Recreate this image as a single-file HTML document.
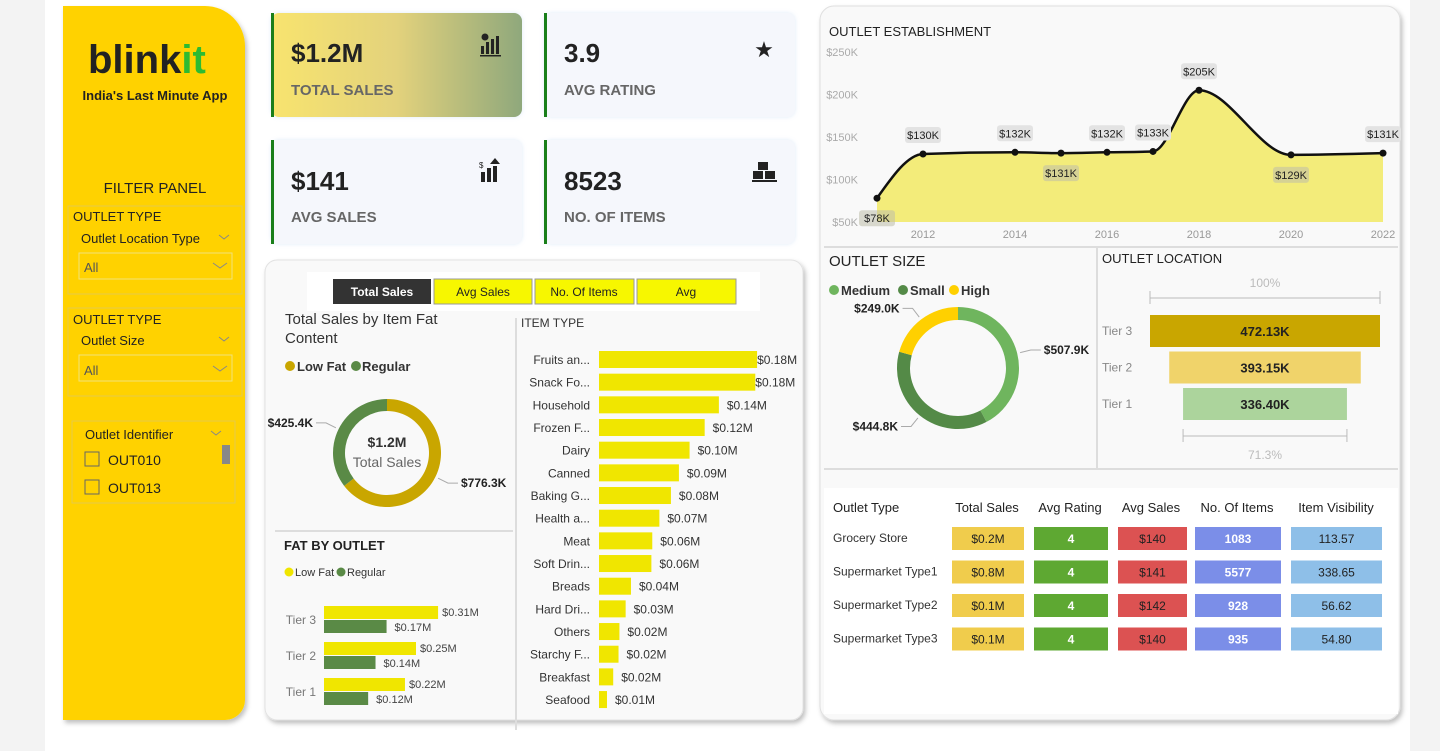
<!DOCTYPE html>
<html><head><meta charset="utf-8">
<style>
html,body{margin:0;padding:0;background:#f3f3f3;width:1440px;height:751px;overflow:hidden;font-family:"Liberation Sans",Arial,sans-serif}
svg text{font-family:"Liberation Sans",Arial,sans-serif}
</style></head>
<body>
<svg id="root" width="1440" height="751" viewBox="0 0 1440 751" xmlns="http://www.w3.org/2000/svg">
<defs>
  <linearGradient id="g1" x1="0" x2="1" y1="0" y2="0"><stop offset="0" stop-color="#f8e46e"/><stop offset="0.5" stop-color="#e3d27c"/><stop offset="1" stop-color="#8fa87c"/></linearGradient>
  <filter id="sh" x="-5%" y="-5%" width="110%" height="110%"><feDropShadow dx="2" dy="3" stdDeviation="2.5" flood-color="#000" flood-opacity="0.25"/></filter>
  <filter id="sh2" x="-5%" y="-5%" width="110%" height="110%"><feDropShadow dx="0" dy="0" stdDeviation="2" flood-color="#9fc3ea" flood-opacity="0.35"/></filter>
</defs>
<rect x="45" y="0" width="1365" height="751" fill="#ffffff"/>

<!-- Sidebar -->
<g>
  <path d="M63 6 H205 A40 40 0 0 1 245 46 V700 A20 20 0 0 1 225 720 H63 Z" fill="#ffd200" filter="url(#sh)"/>
  <text x="88" y="73" font-size="40" font-weight="bold" fill="#222">blink<tspan fill="#2dbb32">it</tspan></text>
  <text x="155" y="100" font-size="13" font-weight="bold" fill="#222" text-anchor="middle">India's Last Minute App</text>
  <text x="155" y="193" font-size="15" fill="#222" text-anchor="middle">FILTER PANEL</text>

  <g>
    <rect x="68" y="206" width="174" height="88" fill="none" stroke="#e6c94a"/>
    <text x="73" y="221" font-size="13" fill="#222">OUTLET TYPE</text>
    <text x="81" y="243" font-size="13" fill="#222">Outlet Location Type</text>
    <path d="M219 235 l5 4 l5 -4" fill="none" stroke="#888"/>
    <rect x="79" y="253" width="153" height="26" fill="none" stroke="#f1e27a"/>
    <text x="84" y="272" font-size="13" fill="#555">All</text>
    <path d="M213 263 l7 5 l7 -5" fill="none" stroke="#888"/>
  </g>
  <g>
    <rect x="68" y="308" width="174" height="88" fill="none" stroke="#e6c94a"/>
    <text x="73" y="324" font-size="13" fill="#222">OUTLET TYPE</text>
    <text x="81" y="345" font-size="13" fill="#222">Outlet Size</text>
    <path d="M219 337 l5 4 l5 -4" fill="none" stroke="#888"/>
    <rect x="79" y="355" width="153" height="26" fill="none" stroke="#f1e27a"/>
    <text x="84" y="375" font-size="13" fill="#555">All</text>
    <path d="M213 366 l7 5 l7 -5" fill="none" stroke="#888"/>
  </g>
  <g>
    <rect x="72" y="421" width="163" height="82" fill="none" stroke="#e6c94a"/>
    <text x="85" y="439" font-size="13" fill="#222">Outlet Identifier</text>
    <path d="M211 431 l5 4 l5 -4" fill="none" stroke="#888"/>
    <rect x="222" y="445" width="8" height="19" fill="#888"/>
    <rect x="85" y="452" width="14" height="14" fill="none" stroke="#666"/>
    <text x="108" y="465" font-size="14" fill="#222">OUT010</text>
    <rect x="85" y="480" width="14" height="14" fill="none" stroke="#666"/>
    <text x="108" y="493" font-size="14" fill="#222">OUT013</text>
  </g>
</g>

<!-- KPI cards -->
<g>
  <rect x="271" y="13" width="251" height="104" rx="8" fill="url(#g1)" filter="url(#sh2)"/>
  <rect x="271" y="13" width="3" height="104" fill="#1a7f1a"/>
  <text x="291" y="62" font-size="26" font-weight="bold" fill="#222">$1.2M</text>
  <text x="291" y="95" font-size="15" font-weight="bold" fill="#666">TOTAL SALES</text>
  <g fill="#222"><rect x="481" y="46" width="3" height="8"/><rect x="486" y="42" width="3" height="12"/><rect x="491" y="39" width="3" height="15"/><rect x="496" y="36" width="3" height="18"/><rect x="480" y="55" width="21" height="1.5"/><circle cx="485" cy="37" r="3.5"/></g>
</g>
<g>
  <rect x="544" y="13" width="251" height="104" rx="8" fill="#f5f7fc" filter="url(#sh2)"/>
  <rect x="544" y="13" width="3" height="104" fill="#1a7f1a"/>
  <text x="564" y="62" font-size="26" font-weight="bold" fill="#222">3.9</text>
  <text x="564" y="95" font-size="15" font-weight="bold" fill="#666">AVG RATING</text>
  <text x="764" y="57" font-size="22" text-anchor="middle" fill="#222">★</text>
</g>
<g>
  <rect x="271" y="140" width="251" height="104" rx="8" fill="#f5f7fc" filter="url(#sh2)"/>
  <rect x="271" y="140" width="3" height="104" fill="#1a7f1a"/>
  <text x="291" y="190" font-size="26" font-weight="bold" fill="#222">$141</text>
  <text x="291" y="222" font-size="15" font-weight="bold" fill="#666">AVG SALES</text>
  <g fill="#222"><rect x="481" y="172" width="4" height="10"/><rect x="487" y="168" width="4" height="14"/><rect x="493" y="166" width="4" height="16"/><path d="M495 158 l5 6 h-10z"/><text x="479" y="168" font-size="8">$</text></g>
</g>
<g>
  <rect x="544" y="140" width="251" height="104" rx="8" fill="#f5f7fc" filter="url(#sh2)"/>
  <rect x="544" y="140" width="3" height="104" fill="#1a7f1a"/>
  <text x="564" y="190" font-size="26" font-weight="bold" fill="#222">8523</text>
  <text x="564" y="222" font-size="15" font-weight="bold" fill="#666">NO. OF ITEMS</text>
  <g fill="#222"><rect x="758" y="162" width="10" height="8"/><rect x="753" y="171" width="10" height="8"/><rect x="765" y="171" width="10" height="8"/><rect x="752" y="180" width="25" height="2"/></g>
</g>

<!-- Middle panel -->
<g>
  <rect x="265" y="260" width="538" height="460" rx="12" fill="#f9f9f9" stroke="#e2e2e2" filter="url(#sh)"/>
  <rect x="307" y="272" width="453" height="39" fill="#ffffff"/>
  <line x1="275" y1="531" x2="513" y2="531" stroke="#ddd" stroke-width="2"/>
  <line x1="516" y1="318" x2="516" y2="730" stroke="#ddd" stroke-width="2"/>
</g>
<g>
  <g><rect x="333" y="279" width="98" height="25" fill="#333"/><text x="382" y="296" font-size="12" font-weight="bold" fill="#fff" text-anchor="middle">Total Sales</text></g>
  <g><rect x="434" y="279" width="98" height="25" fill="#f7f700" stroke="#999"/><text x="483" y="296" font-size="12" fill="#222" text-anchor="middle">Avg Sales</text></g>
  <g><rect x="535" y="279" width="99" height="25" fill="#f7f700" stroke="#999"/><text x="584" y="296" font-size="12" fill="#222" text-anchor="middle">No. Of Items</text></g>
  <g><rect x="637" y="279" width="99" height="25" fill="#f7f700" stroke="#999"/><text x="686" y="296" font-size="12" fill="#222" text-anchor="middle">Avg</text></g>
</g>
<text x="285" y="324" font-size="15" fill="#333">Total Sales by Item Fat</text>
<text x="285" y="343" font-size="15" fill="#333">Content</text>
<g>
  <circle cx="290" cy="366" r="5" fill="#c9a600"/><text x="297" y="371" font-size="13" font-weight="bold" fill="#333">Low Fat</text>
  <circle cx="356" cy="366" r="5" fill="#5a8a46"/><text x="362" y="371" font-size="13" font-weight="bold" fill="#333">Regular</text>
</g>
<g id="fatDonut"></g>
<text x="284" y="550" font-size="13" font-weight="bold" fill="#222">FAT BY OUTLET</text>
<g>
  <circle cx="289" cy="572" r="4.5" fill="#f0e600"/><text x="295" y="576" font-size="11" fill="#333">Low Fat</text>
  <circle cx="341" cy="572" r="4.5" fill="#5a8a46"/><text x="347" y="576" font-size="11" fill="#333">Regular</text>
</g>
<g id="fatOutlet"></g>
<text x="521" y="327" font-size="12" fill="#333">ITEM TYPE</text>
<g id="itemChart"></g>

<!-- Right panel -->
<g>
  <rect x="820" y="6" width="580" height="714" rx="14" fill="#f9f9f9" stroke="#e0e0e0" filter="url(#sh)"/>
  <line x1="824" y1="247" x2="1398" y2="247" stroke="#ddd" stroke-width="2"/>
  <line x1="1097" y1="247" x2="1097" y2="469" stroke="#ddd" stroke-width="2"/>
  <line x1="824" y1="469" x2="1398" y2="469" stroke="#ddd" stroke-width="2"/>
  <rect x="824" y="488" width="574" height="226" fill="#ffffff"/>
</g>
<text x="829" y="36" font-size="13" fill="#222">OUTLET ESTABLISHMENT</text>
<g id="lineChart"></g>
<text x="829" y="266" font-size="15" fill="#222">OUTLET SIZE</text>
<g>
  <circle cx="834" cy="290" r="5" fill="#6fb55e"/><text x="841" y="295" font-size="13" font-weight="bold" fill="#333">Medium</text>
  <circle cx="903" cy="290" r="5" fill="#548a47"/><text x="910" y="295" font-size="13" font-weight="bold" fill="#333">Small</text>
  <circle cx="954" cy="290" r="5" fill="#ffd000"/><text x="961" y="295" font-size="13" font-weight="bold" fill="#333">High</text>
</g>
<g id="sizeDonut"></g>
<text x="1102" y="263" font-size="13" fill="#222">OUTLET LOCATION</text>
<g id="funnel"></g>
<g id="table"></g>
</svg>

<script>
const NS='http://www.w3.org/2000/svg';
function mk(parent,tag,attrs,txt){const e=document.createElementNS(NS,tag);for(const k in attrs)e.setAttribute(k,attrs[k]);if(txt!==undefined)e.textContent=txt;parent.appendChild(e);return e;}

// ---------- data ----------
const fatCategories=['Low Fat','Regular'];
const fatValues=[776.3,425.4];
const fatLabels=['$776.3K','$425.4K'];

const outletTiers=['Tier 3','Tier 2','Tier 1'];
const tierLowFat=[0.31,0.25,0.22];
const tierRegular=[0.17,0.14,0.12];

const itemTypes=['Fruits an...','Snack Fo...','Household','Frozen F...','Dairy','Canned','Baking G...','Health a...','Meat','Soft Drin...','Breads','Hard Dri...','Others','Starchy F...','Breakfast','Seafood'];
const itemSales=[0.178,0.176,0.135,0.119,0.102,0.090,0.081,0.068,0.060,0.059,0.036,0.030,0.023,0.022,0.016,0.009];

const estYears=[2011,2012,2014,2015,2016,2017,2018,2020,2022];
const estSales=[78,130,132,131,132,133,205,129,131];
const estYTicks=[50,100,150,200,250];
const estXTicks=[2012,2014,2016,2018,2020,2022];

const sizeCategories=['Medium','Small','High'];
const sizeValues=[507.9,444.8,249.0];
const sizeLabels=['$507.9K','$444.8K','$249.0K'];

const locTiers=['Tier 3','Tier 2','Tier 1'];
const locValues=[472.13,393.15,336.40];

const tblHeaders=['Outlet Type','Total Sales','Avg Rating','Avg Sales','No. Of Items','Item Visibility'];
const tblTypes=['Grocery Store','Supermarket Type1','Supermarket Type2','Supermarket Type3'];
const tblTotal=['$0.2M','$0.8M','$0.1M','$0.1M'];
const tblRating=['4','4','4','4'];
const tblAvg=['$140','$141','$142','$140'];
const tblItems=['1083','5577','928','935'];
const tblVis=['113.57','338.65','56.62','54.80'];

// ---------- donut helper ----------
function arc(cx,cy,r1,r2,a0,a1){
  const p=(r,a)=>[cx+r*Math.sin(a),cy-r*Math.cos(a)];
  const lg=(a1-a0)>Math.PI?1:0;
  const [x0,y0]=p(r2,a0),[x1,y1]=p(r2,a1),[x2,y2]=p(r1,a1),[x3,y3]=p(r1,a0);
  return `M${x0} ${y0}A${r2} ${r2} 0 ${lg} 1 ${x1} ${y1}L${x2} ${y2}A${r1} ${r1} 0 ${lg} 0 ${x3} ${y3}Z`;
}
function donut(g,cx,cy,r1,r2,vals,cols,labels,names){
  const tot=vals.reduce((a,b)=>a+b,0);let a=0;
  vals.forEach((v,i)=>{
    const a1=a+v/tot*2*Math.PI;
    const p=mk(g,'path',{d:arc(cx,cy,r1,r2,a,a1),fill:cols[i]});
    
    
    const m=(a+a1)/2, sx=cx+(r2+3)*Math.sin(m), sy=cy-(r2+3)*Math.cos(m);
    const ex=cx+(r2+14)*Math.sin(m), ey=cy-(r2+14)*Math.cos(m);
    const right=Math.sin(m)>=0; const hx=ex+(right?10:-10);
    mk(g,'path',{d:`M${sx} ${sy}L${ex} ${ey}L${hx} ${ey}`,fill:'none',stroke:'#aaa'});
    const t=mk(g,'text',{x:hx+(right?3:-3),y:ey+4,'font-size':12,'font-weight':'bold',fill:'#222','text-anchor':right?'start':'end'},labels[i]);
    
    
    a=a1;
  });
}

// fat donut
(function(){
  const g=document.getElementById('fatDonut');
  donut(g,387,453,42,54,fatValues,['#c9a600','#5a8a46'],fatLabels,['slice-low-fat','slice-regular']);
  mk(g,'text',{x:387,y:447,'font-size':14,'font-weight':'bold',fill:'#333','text-anchor':'middle'},'$1.2M');
  mk(g,'text',{x:387,y:467,'font-size':14,fill:'#666','text-anchor':'middle'},'Total Sales');
})();

// fat by outlet
(function(){
  const g=document.getElementById('fatOutlet');
  const x0=324, sc=368, top=606, step=36;
  outletTiers.forEach((t,i)=>{
    const y=top+i*step;
    const l=mk(g,'text',{x:316,y:y+18,'font-size':12,fill:'#777','text-anchor':'end'},t);
    
    
    const w1=tierLowFat[i]*sc, w2=tierRegular[i]*sc;
    const b1=mk(g,'rect',{x:x0,y:y,width:w1,height:13,fill:'#f0e600'});
    
    
    const b2=mk(g,'rect',{x:x0,y:y+14,width:w2,height:13,fill:'#5a8a46'});
    
    
    mk(g,'text',{x:x0+w1+4,y:y+10,'font-size':11,fill:'#444'},'$'+tierLowFat[i].toFixed(2)+'M');
    mk(g,'text',{x:x0+w2+8,y:y+25,'font-size':11,fill:'#444'},'$'+tierRegular[i].toFixed(2)+'M');
  });
})();

// item type
(function(){
  const g=document.getElementById('itemChart');
  const x0=599, sc=888, top=351, step=22.67;
  itemTypes.forEach((t,i)=>{
    const y=top+i*step; const w=itemSales[i]*sc;
    const l=mk(g,'text',{x:590,y:y+13,'font-size':12,fill:'#333','text-anchor':'end'},t);
    
    
    const b=mk(g,'rect',{x:x0,y:y,width:w,height:17,fill:'#f0e600'});
    
    
    mk(g,'text',{x:x0+w+(w>150?0:8),y:y+13,'font-size':12,fill:'#333'},'$'+itemSales[i].toFixed(2)+'M');
  });
})();

// line chart
(function(){
  const g=document.getElementById('lineChart');
  const X=y=>923+(y-2012)*46, Y=v=>222-(v-50)*0.85;
  estYTicks.forEach(t=>{mk(g,'text',{x:858,y:Y(t)+4,'font-size':11,fill:'#aaa','text-anchor':'end'},'$'+t+'K');});
  estXTicks.forEach(t=>{mk(g,'text',{x:X(t),y:238,'font-size':11,fill:'#999','text-anchor':'middle'},t);});
  const pts=estYears.map((y,i)=>[X(y),Y(estSales[i])]);
  const n=pts.length, h=[], s=[], m=[];
  for(let i=0;i<n-1;i++){h.push(pts[i+1][0]-pts[i][0]);s.push((pts[i+1][1]-pts[i][1])/h[i]);}
  const sg=v=>v<0?-1:v>0?1:0;
  for(let i=0;i<n;i++){
    if(i===0||i===n-1){m.push(null);continue;}
    const p=(s[i-1]*h[i]+s[i]*h[i-1])/(h[i-1]+h[i]);
    m.push((sg(s[i-1])+sg(s[i]))*Math.min(Math.abs(s[i-1]),Math.abs(s[i]),0.5*Math.abs(p))||0);
  }
  m[0]=(3*s[0]-m[1])/2; m[n-1]=(3*s[n-2]-m[n-2])/2;
  let d=`M${pts[0][0]} ${pts[0][1]}`;
  for(let i=0;i<n-1;i++){
    const dx=h[i]/3;
    d+=`C${pts[i][0]+dx} ${pts[i][1]+m[i]*dx} ${pts[i+1][0]-dx} ${pts[i+1][1]-m[i+1]*dx} ${pts[i+1][0]} ${pts[i+1][1]}`;
  }
  const area=mk(g,'path',{d:d+`L${pts[n-1][0]} ${Y(50)}L${pts[0][0]} ${Y(50)}Z`,fill:'#f3ec7a'});
  
  
  const line=mk(g,'path',{d:d,fill:'none',stroke:'#111','stroke-width':2.5});
  
  
  pts.forEach((p,i)=>{
    const c=mk(g,'circle',{cx:p[0],cy:p[1],r:3.5,fill:'#111'});
    
    
    const below=i===0||estSales[i]<estSales[i-1];
    const ly=below?p[1]+20:p[1]-19;
    const txt='$'+estSales[i]+'K';
    mk(g,'rect',{x:p[0]-18,y:ly-8,width:36,height:16,rx:3,fill:below?'rgba(190,190,170,0.55)':'#e3e3e3'});
    mk(g,'text',{x:p[0],y:ly+4,'font-size':11,fill:'#222','text-anchor':'middle'},txt);
  });
})();

// size donut
(function(){
  const g=document.getElementById('sizeDonut');
  donut(g,958,368,48,61,sizeValues,['#6fb55e','#548a47','#ffd000'],sizeLabels,['slice-medium','slice-small','slice-high']);
})();

// funnel
(function(){
  const g=document.getElementById('funnel');
  const cx=1265, sc=230/locValues[0], top=315, step=36.5, cols=['#c9a600','#f0d36a','#acd49c'];
  mk(g,'text',{x:cx,y:287,'font-size':12,fill:'#bbb','text-anchor':'middle'},'100%');
  mk(g,'path',{d:`M1150 291V304M1150 298H1380M1380 291V304`,stroke:'#bbb',fill:'none'});
  locTiers.forEach((t,i)=>{
    const w=locValues[i]*sc, y=top+i*step;
    mk(g,'text',{x:1102,y:y+20,'font-size':12,fill:'#888'},t);
    const b=mk(g,'rect',{x:cx-w/2,y:y,width:w,height:32,fill:cols[i]});
    
    
    mk(g,'text',{x:cx,y:y+21,'font-size':13,'font-weight':'bold',fill:'#222','text-anchor':'middle'},locValues[i].toFixed(2)+'K');
  });
  const wl=locValues[locValues.length-1]*sc;
  mk(g,'path',{d:`M${cx-wl/2} 429V442M${cx-wl/2} 436H${cx+wl/2}M${cx+wl/2} 429V442`,stroke:'#bbb',fill:'none'});
  mk(g,'text',{x:cx,y:459,'font-size':12,fill:'#bbb','text-anchor':'middle'},(locValues[locValues.length-1]/locValues[0]*100).toFixed(1)+'%');
})();

// table
(function(){
  const g=document.getElementById('table');
  const colX=[952,1034,1118,1195,1291], colW=[72,74,69,86,91];
  const colC=['#f0cc4c','#5ea832','#dc5252','#7b8ee8','#8ebfe8'];
  const colT=['#222','#fff','#222','#fff','#222'];
  const hx=[833,987,1070,1151,1237,1336];
  tblHeaders.forEach((h,i)=>mk(g,'text',{x:hx[i],y:512,'font-size':13,fill:'#222','text-anchor':i===0?'start':'middle'},h));
  const cols=[tblTotal,tblRating,tblAvg,tblItems,tblVis];
  tblTypes.forEach((t,r)=>{
    const y=527+r*33.5;
    mk(g,'text',{x:833,y:y+15,'font-size':12,fill:'#333'},t);
    cols.forEach((c,j)=>{
      const cell=mk(g,'rect',{x:colX[j],y:y,width:colW[j],height:23,fill:colC[j]});
      
      
      mk(g,'text',{x:colX[j]+colW[j]/2,y:y+16,'font-size':12,'font-weight':j===1||j===3?'bold':'normal',fill:colT[j],'text-anchor':'middle'},c[r]);
    });
  });
})();
</script>
</body></html>
